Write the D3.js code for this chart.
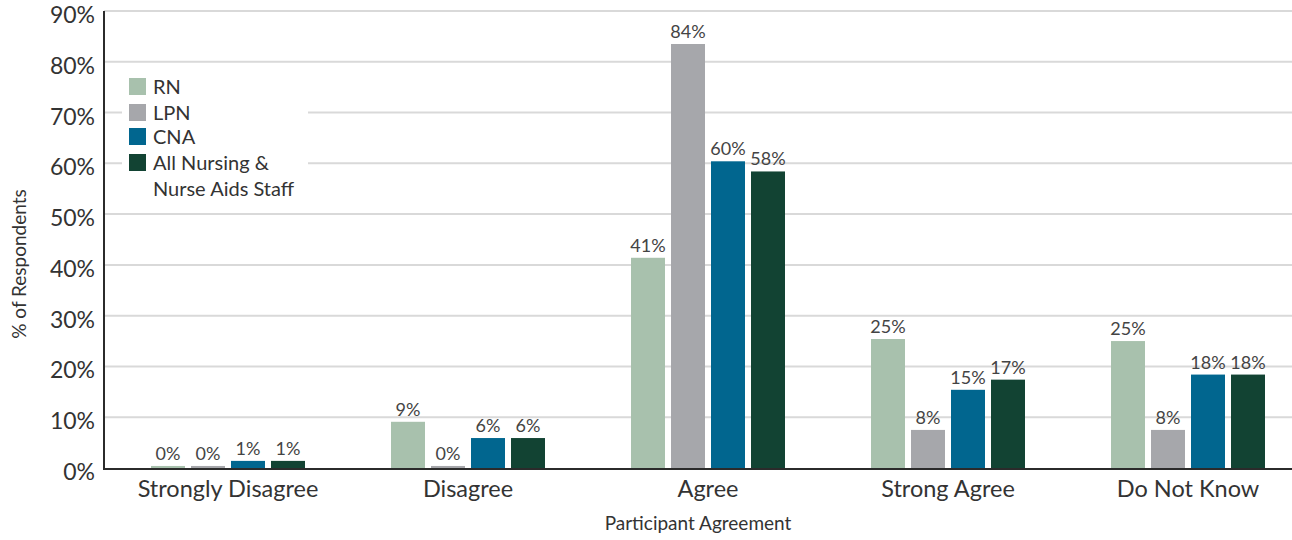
<!DOCTYPE html>
<html>
<head>
<meta charset="utf-8">
<script src="https://cdn.jsdelivr.net/npm/d3@7"></script>
<style>
  html, body { margin: 0; padding: 0; background: #fff; }
  svg { display: block; font-family: Lato, "Noto Sans", sans-serif; }
</style>
</head>
<body>
<svg id="chart" width="1292" height="540"></svg>
<script>
// Survey responses by staff type (% of respondents)
const categories = ["Strongly Disagree", "Disagree", "Agree", "Strong Agree", "Do Not Know"];
const seriesNames = ["RN", "LPN", "CNA", "All Nursing & Nurse Aids Staff"];
const rnValues  = [0.4, 9.1, 41.4, 25.4, 25.0];
const lpnValues = [0.4, 0.4, 83.5, 7.5, 7.5];
const cnaValues = [1.4, 5.9, 60.4, 15.4, 18.4];
const allValues = [1.4, 5.9, 58.4, 17.4, 18.4];
const yTicks = [0, 10, 20, 30, 40, 50, 60, 70, 80, 90];
const colors = ["#a8c1ad", "#a6a7ab", "#01668f", "#124333"];

const seriesValues = [rnValues, lpnValues, cnaValues, allValues];
const rows = categories.map((c, i) => ({
  category: c,
  values: seriesNames.map((s, j) => ({ series: s, value: seriesValues[j][i], idx: j }))
}));

const svg = d3.select("#chart");
const plotLeft = 104, plotRight = 1292, plotTop = 11, plotBottom = 468;

const y = d3.scaleLinear().domain([0, 90]).range([plotBottom, plotTop]);
const x0 = d3.scaleBand().domain(categories).range([108, 1308]).padding(0);
const x1 = d3.scaleBand().domain(seriesNames).range([-80, 80])
  .paddingInner(0.15).paddingOuter(0.075);
const color = d3.scaleOrdinal().domain(seriesNames).range(colors);

// horizontal gridlines
svg.append("g")
  .selectAll("line")
  .data(yTicks.filter(t => t > 0))
  .join("line")
  .attr("x1", plotLeft).attr("x2", plotRight)
  .attr("y1", d => y(d)).attr("y2", d => y(d))
  .attr("stroke", "#d9d9d9").attr("stroke-width", 2);

// y tick labels
const yAxis = d3.axisLeft(y).tickValues(yTicks).tickFormat(d => d + "%").tickSize(0).tickPadding(9);
const yg = svg.append("g").attr("transform", `translate(${plotLeft},0)`).call(yAxis);
yg.select(".domain").remove();
yg.selectAll("text")
  .attr("font-size", 23).attr("fill", "#333")
  .attr("dy", "0.5em")
  .attr("font-family", "Lato, 'Noto Sans', sans-serif");

// bars
const groups = svg.append("g")
  .selectAll("g")
  .data(rows)
  .join("g")
  .attr("transform", d => `translate(${x0(d.category) + x0.bandwidth() / 2},0)`);

groups.selectAll("rect")
  .data(d => d.values)
  .join("rect")
  .attr("x", d => x1(d.series))
  .attr("width", x1.bandwidth())
  .attr("y", d => y(d.value))
  .attr("height", d => y(0) - y(d.value))
  .attr("fill", d => color(d.series));

groups.selectAll("text")
  .data(d => d.values)
  .join("text")
  .attr("x", d => x1(d.series) + x1.bandwidth() / 2)
  .attr("y", d => y(d.value) - 6)
  .attr("text-anchor", "middle")
  .attr("font-size", 18)
  .attr("fill", "#444")
  .text(d => Math.round(d.value) + "%");

// axis lines
svg.append("line")
  .attr("x1", plotLeft).attr("x2", plotRight)
  .attr("y1", y(0) + 1).attr("y2", y(0) + 1)
  .attr("stroke", "#2b2b2b").attr("stroke-width", 2);
svg.append("line")
  .attr("x1", plotLeft).attr("x2", plotLeft)
  .attr("y1", plotTop).attr("y2", y(0) + 2)
  .attr("stroke", "#2b2b2b").attr("stroke-width", 2);

// category labels
const xAxis = d3.axisBottom(x0).tickSize(0).tickPadding(10);
const xg = svg.append("g").attr("transform", `translate(0,${plotBottom + 2})`).call(xAxis);
xg.select(".domain").remove();
xg.selectAll("text")
  .attr("font-size", 23.5).attr("fill", "#333")
  .attr("font-family", "Lato, 'Noto Sans', sans-serif");

// axis titles
svg.append("text")
  .attr("x", 698).attr("y", 530)
  .attr("text-anchor", "middle")
  .attr("font-size", 19).attr("fill", "#333")
  .text("Participant Agreement");
svg.append("text")
  .attr("transform", "translate(26,264) rotate(-90)")
  .attr("text-anchor", "middle")
  .attr("font-size", 19).attr("fill", "#333")
  .text("% of Respondents");

// legend
const legend = svg.append("g");
legend.append("rect")
  .attr("x", 122).attr("y", 64).attr("width", 186).attr("height", 142)
  .attr("fill", "#fff");
const legendRows = [
  { name: seriesNames[0], lines: ["RN"], y: 78 },
  { name: seriesNames[1], lines: ["LPN"], y: 104 },
  { name: seriesNames[2], lines: ["CNA"], y: 128 },
  { name: seriesNames[3], lines: ["All Nursing &", "Nurse Aids Staff"], y: 154 }
];
const li = legend.selectAll("g.item")
  .data(legendRows)
  .join("g")
  .attr("class", "item")
  .attr("transform", d => `translate(129,${d.y})`);
li.append("rect")
  .attr("width", 17).attr("height", 17)
  .attr("fill", d => color(d.name));
li.each(function(d) {
  const t = d3.select(this).append("text")
    .attr("x", 24).attr("y", 16)
    .attr("font-size", 20).attr("fill", "#333");
  d.lines.forEach((ln, k) => {
    t.append("tspan").attr("x", 24).attr("dy", k === 0 ? 0 : 26).text(ln);
  });
});
</script>
</body>
</html>
